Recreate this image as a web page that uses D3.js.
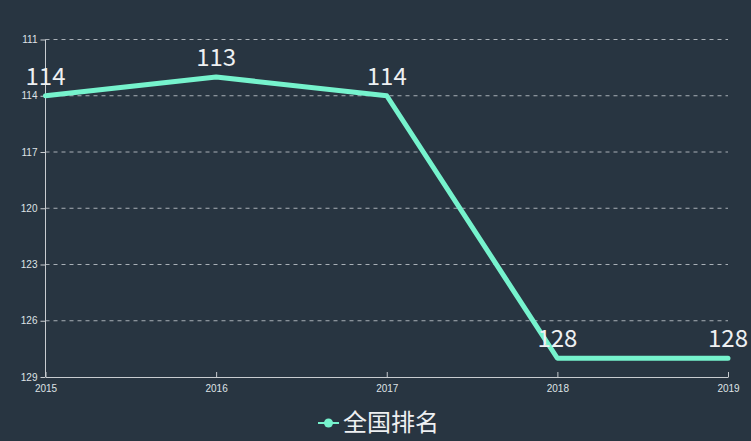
<!DOCTYPE html>
<html>
<head>
<meta charset="utf-8">
<script src="https://cdn.jsdelivr.net/npm/d3@7"></script>
<style>
  html, body { margin: 0; padding: 0; background: #283541; }
  svg { display: block; font-family: "Noto Sans CJK SC", "Noto Sans", sans-serif; }
</style>
</head>
<body>
<svg width="751" height="441"></svg>
<script>
const years = ['2015', '2016', '2017', '2018', '2019'];
const ranks = [114, 113, 114, 128, 128];
const yTicks = [111, 114, 117, 120, 123, 126, 129];
const seriesName = '全国排名';

const lineColor = '#76f3cd';
const margin = { left: 45.5, right: 23, top: 39.5, bottom: 64 };

const svg = d3.select('svg');
const width = +svg.attr('width');
const height = +svg.attr('height');
const innerWidth = width - margin.left - margin.right;
const innerHeight = height - margin.top - margin.bottom;

const g = svg.append('g')
  .attr('transform', `translate(${margin.left}, ${margin.top})`);

const xScale = d3.scalePoint()
  .domain(years)
  .range([0, innerWidth]);

// rank axis is inverted: 111 on top, 129 at the bottom
const yScale = d3.scaleLinear()
  .domain([111, 129])
  .range([0, innerHeight]);

// dashed grid lines
g.append('g')
  .selectAll('line')
  .data(yTicks.slice(0, -1))
  .join('line')
    .attr('x1', 0)
    .attr('x2', innerWidth)
    .attr('y1', d => yScale(d))
    .attr('y2', d => yScale(d))
    .attr('stroke', '#a9b0b7')
    .attr('stroke-width', 1)
    .attr('stroke-dasharray', '4,4');

const yAxis = d3.axisLeft(yScale).tickValues(yTicks).tickSize(5).tickPadding(3);
const yAxisG = g.append('g').call(yAxis);
yAxisG.select('.domain').remove();
yAxisG.append('line')
  .attr('x1', 0).attr('x2', 0)
  .attr('y1', 0).attr('y2', innerHeight)
  .attr('stroke', '#c8ccd0');

const xAxis = d3.axisBottom(xScale).tickSize(5).tickPadding(3).tickSizeOuter(0);
const xAxisG = g.append('g')
  .attr('transform', `translate(0, ${innerHeight})`)
  .call(xAxis);

[yAxisG, xAxisG].forEach(a => {
  a.selectAll('.tick line').attr('stroke', '#c8ccd0');
  a.select('.domain').attr('stroke', '#c8ccd0');
  a.selectAll('.tick text')
    .attr('fill', '#dfe3e6')
    .style('font-size', '10px');
});
xAxisG.selectAll('.tick line').attr('y2', -5).attr('y1', 0);

const line = d3.line()
  .x((d, i) => xScale(years[i]))
  .y(d => yScale(d));

g.append('path')
  .datum(ranks)
  .attr('fill', 'none')
  .attr('stroke', lineColor)
  .attr('stroke-width', 5)
  .attr('stroke-linejoin', 'round')
  .attr('stroke-linecap', 'round')
  .attr('d', line);

g.append('g')
  .selectAll('text')
  .data(ranks)
  .join('text')
    .attr('x', (d, i) => xScale(years[i]))
    .attr('y', d => yScale(d) - 11)
    .attr('text-anchor', 'middle')
    .attr('fill', '#eef0f2')
    .style('font-size', '24px')
    .text(d => d);

// legend
const legend = svg.append('g').attr('transform', 'translate(318, 423)');
legend.append('line')
  .attr('x1', 0).attr('x2', 21)
  .attr('stroke', lineColor)
  .attr('stroke-width', 2);
legend.append('circle')
  .attr('cx', 10.5).attr('r', 4.5)
  .attr('fill', lineColor);
legend.append('text')
  .attr('x', 25)
  .attr('dy', '0.35em')
  .attr('fill', '#eef0f2')
  .style('font-size', '24px')
  .text(seriesName);
</script>
</body>
</html>
